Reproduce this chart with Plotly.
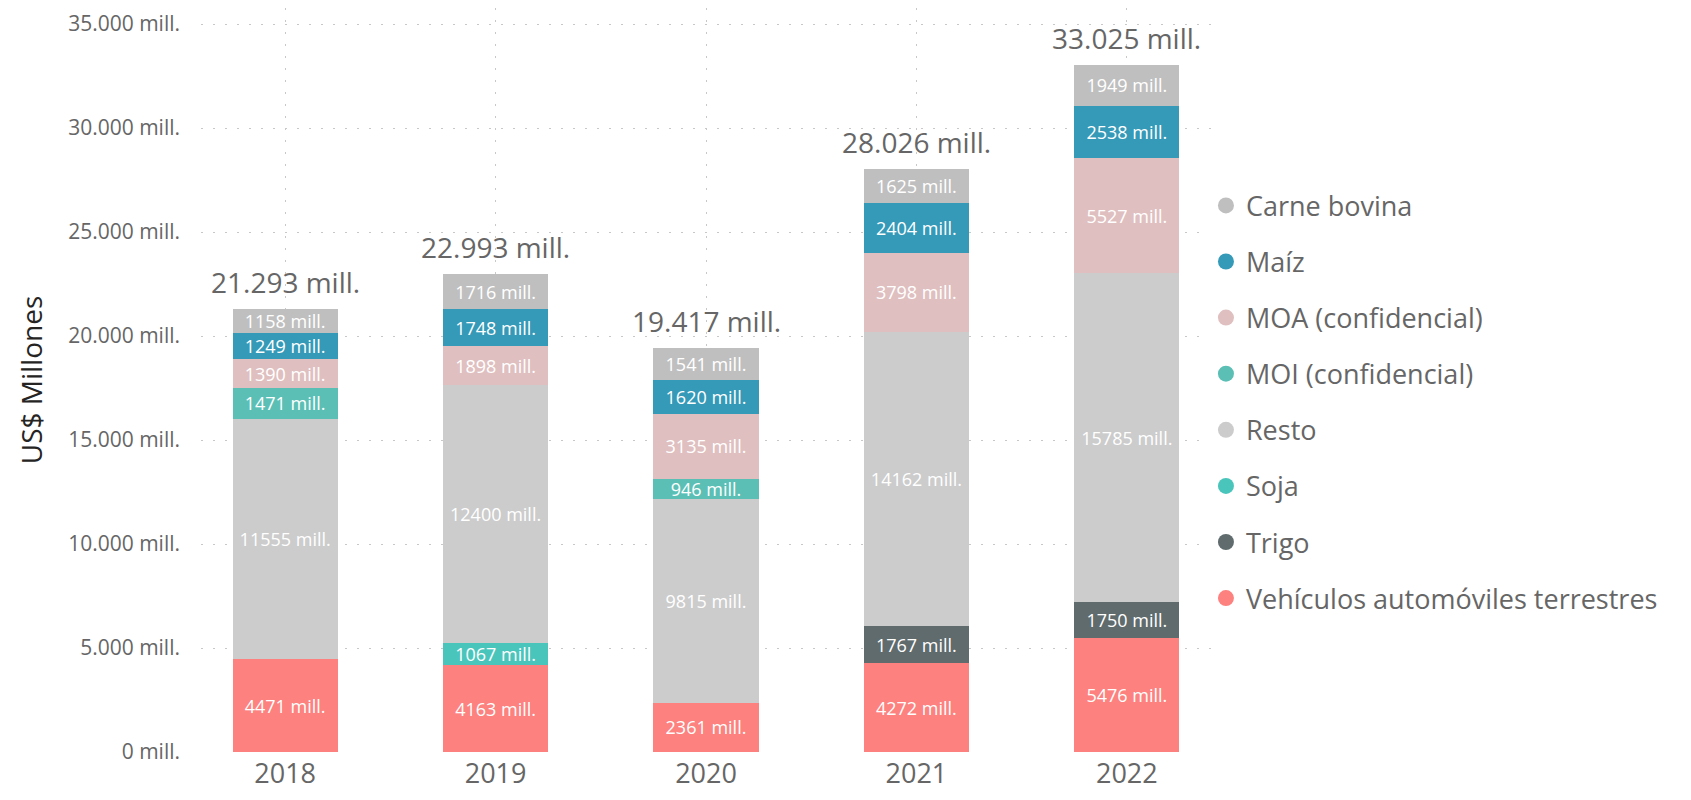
import plotly.graph_objects as go

years = ["2018", "2019", "2020", "2021", "2022"]

vehiculos = [4471, 4163, 2361, 4272, 5476]
trigo = [None, None, None, 1767, 1750]
soja = [None, 1067, None, None, None]
resto = [11555, 12400, 9815, 14162, 15785]
moi = [1471, None, 946, None, None]
moa = [1390, 1898, 3135, 3798, 5527]
maiz = [1249, 1748, 1620, 2404, 2538]
carne = [1158, 1716, 1541, 1625, 1949]
totals = [21293, 22993, 19417, 28026, 33025]

series_names = ["Vehículos automóviles terrestres", "Trigo", "Soja", "Resto",
                "MOI (confidencial)", "MOA (confidencial)", "Maíz", "Carne bovina"]
series_values = [vehiculos, trigo, soja, resto, moi, moa, maiz, carne]
colors = {
    "Vehículos automóviles terrestres": "#FD817E",
    "Trigo": "#5F6B6D",
    "Soja": "#4AC5BB",
    "Resto": "#CCCCCC",
    "MOI (confidencial)": "#5BBFB5",
    "MOA (confidencial)": "#DFBFBF",
    "Maíz": "#3599B8",
    "Carne bovina": "#BFBFBF",
}

FONT = "Segoe UI, Open Sans, sans-serif"

fig = go.Figure()
for name, vals in zip(series_names, series_values):
    fig.add_trace(go.Bar(
        x=years, y=vals, name=name, showlegend=False,
        marker=dict(color=colors[name], line=dict(width=0)),
        texttemplate="%{y:.0f} mill.", textposition="inside", textangle=0,
        insidetextanchor="middle",
        insidetextfont=dict(color="white", size=18, family=FONT),
    ))

for i, t in enumerate(totals):
    fig.add_annotation(
        x=i, y=t, xref="x", yref="y", yanchor="bottom", yshift=6,
        text=f"{t:,}".replace(",", ".") + " mill.", showarrow=False,
        font=dict(size=28, color="#666666", family=FONT),
    )

for i, name in enumerate(reversed(series_names)):
    fig.add_trace(go.Scatter(
        x=[None], y=[None], mode="markers", name=name,
        legendgroup=f"g{i}",
        marker=dict(symbol="circle", size=16, color=colors[name]),
    ))

fig.update_layout(
    width=1675, height=784,
    barmode="stack", bargap=0.5,
    plot_bgcolor="white", paper_bgcolor="white",
    margin=dict(l=193, r=472, t=0, b=40),
    font=dict(family=FONT, color="#666666"),
    uniformtext=dict(minsize=18, mode="show"),
    legend=dict(
        x=0.995, xanchor="left", y=0.767, yanchor="top",
        traceorder="grouped", tracegroupgap=18,
        font=dict(size=27, color="#666666", family=FONT),
        itemsizing="trace",
    ),
)
fig.update_xaxes(
    type="category", range=[-0.4, 4.4], automargin=False,
    showgrid=True, gridcolor="#C8C8C8", griddash="2px,10px", gridwidth=1,
    tickfont=dict(size=27, color="#666666"), ticks="", showline=False,
    ticklabelstandoff=3,
)
fig.update_yaxes(
    range=[0, 35769], automargin=False, ticklabeloverflow="allow",
    tickvals=[0, 5000, 10000, 15000, 20000, 25000, 30000, 35000],
    ticktext=["0 mill.", "5.000 mill.", "10.000 mill.", "15.000 mill.", "20.000 mill.",
              "25.000 mill.", "30.000 mill.", "35.000 mill."],
    showgrid=True, gridcolor="#C8C8C8", griddash="2px,10px", gridwidth=1,
    zeroline=False, showline=False, ticks="", ticklabelstandoff=20,
    tickfont=dict(size=21, color="#666666"),
    title=dict(text="US$ Millones", font=dict(size=28, color="#252423"), standoff=17),
)

fig.write_html("out.html")
